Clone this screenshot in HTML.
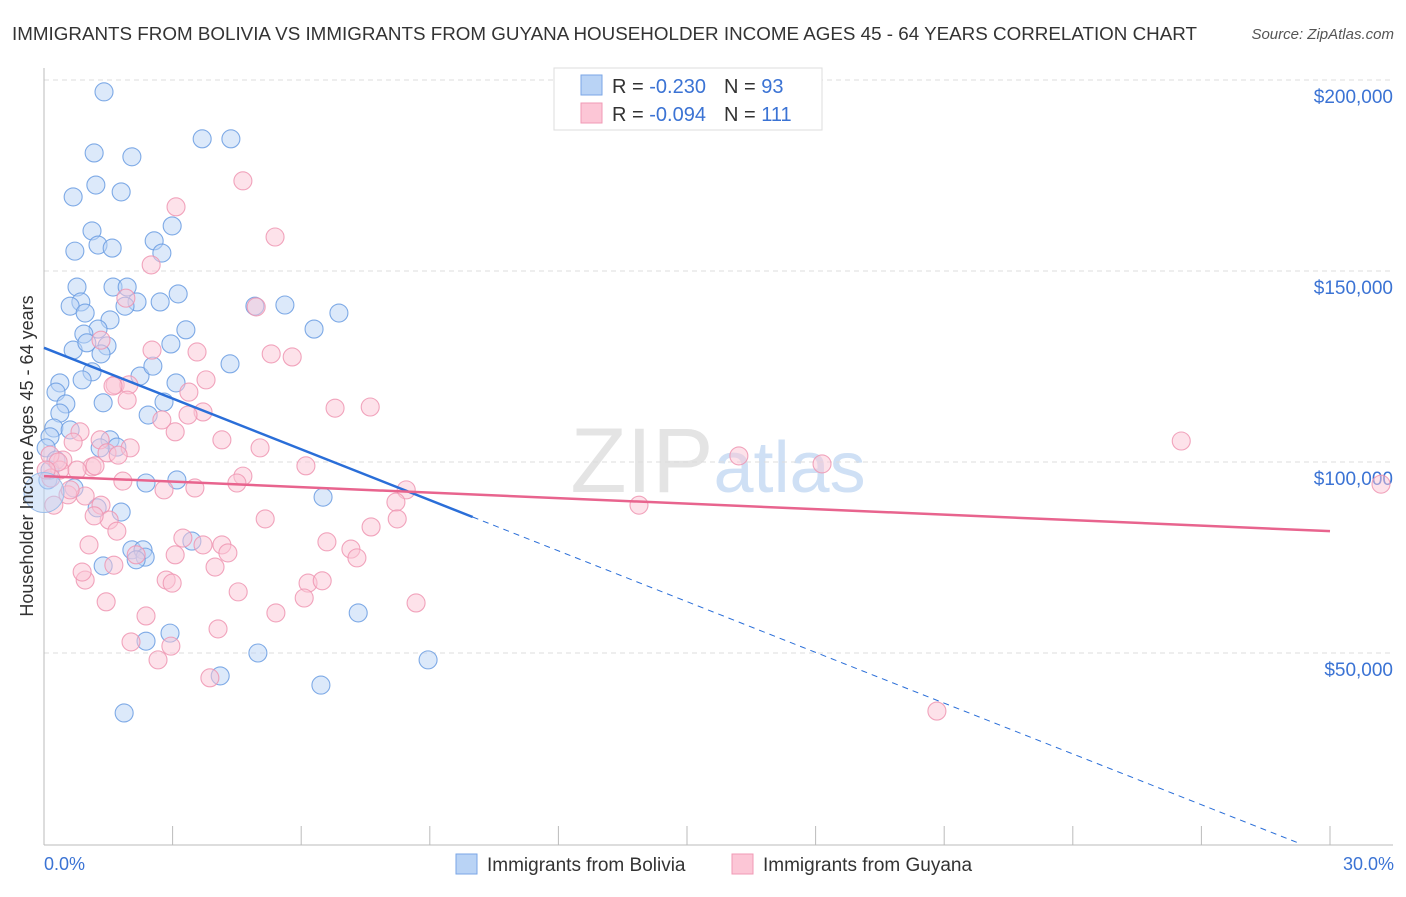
<!DOCTYPE html>
<html><head><meta charset="utf-8"><style>
body{margin:0;background:#fff;font-family:"Liberation Sans",sans-serif;}
svg text{font-family:"Liberation Sans",sans-serif;}
</style></head><body>
<svg id="chart" width="1406" height="892" xmlns="http://www.w3.org/2000/svg">
<text x="12" y="40" font-size="18" fill="#333" textLength="1185" lengthAdjust="spacingAndGlyphs">IMMIGRANTS FROM BOLIVIA VS IMMIGRANTS FROM GUYANA HOUSEHOLDER INCOME AGES 45 - 64 YEARS CORRELATION CHART</text>
<text x="1394" y="39" font-size="15" fill="#555" text-anchor="end" font-style="italic">Source: ZipAtlas.com</text>
<text x="718" y="492" font-size="92" text-anchor="middle" fill="#e4e4e4" font-family="Liberation Serif">ZIP<tspan fill="#cfe0f5" font-family="Liberation Sans" font-size="72">atlas</tspan></text>
<g id="grid"></g><g id="axes"></g><g id="pts"></g><g id="trends"></g>
<text transform="translate(33,456) rotate(-90)" font-size="18" fill="#333" text-anchor="middle">Householder Income Ages 45 - 64 years</text>
<text x="44" y="870" font-size="18" fill="#3b73d4">0.0%</text>
<text x="1394" y="870" font-size="18" fill="#3b73d4" text-anchor="end">30.0%</text>
<g>
<rect x="554" y="68" width="268" height="62" fill="#fff" stroke="#ddd"/>
<rect x="581" y="75" width="21" height="20" fill="#b9d3f5" stroke="#7aa6e6"/>
<rect x="581" y="103" width="21" height="20" fill="#fcc6d6" stroke="#f09ab5"/>
<text x="612" y="93" font-size="20" fill="#333">R = <tspan fill="#3b73d4">-0.230</tspan><tspan dx="18">N = </tspan><tspan fill="#3b73d4">93</tspan></text>
<text x="612" y="121" font-size="20" fill="#333">R = <tspan fill="#3b73d4">-0.094</tspan><tspan dx="18">N = </tspan><tspan fill="#3b73d4">111</tspan></text>
</g>
<g>
<rect x="456" y="854" width="21" height="20" fill="#b9d3f5" stroke="#7aa6e6"/>
<text x="487" y="871" font-size="19" fill="#333">Immigrants from Bolivia</text>
<rect x="732" y="854" width="21" height="20" fill="#fcc6d6" stroke="#f09ab5"/>
<text x="763" y="871" font-size="19" fill="#333">Immigrants from Guyana</text>
</g>
</svg>
<script>
const yTicks=[50,100,150,200];
const yTickLabels=["$50,000","$100,000","$150,000","$200,000"];
const xTicks=[0,3,6,9,12,15,18,21,24,27,30];
const bolX=[1.40,3.69,4.36,1.17,2.05,1.21,1.80,0.68,2.99,1.12,2.57,1.26,1.59,0.72,2.75,0.77,1.61,1.94,0.86,0.61,2.17,2.71,3.13,4.92,5.62,1.89,0.96,1.54,6.88,6.30,3.31,1.26,0.93,0.68,1.00,1.47,1.33,2.96,2.24,4.34,2.54,1.12,0.89,3.08,0.37,0.28,2.80,1.38,0.51,0.37,2.43,0.23,0.61,0.14,1.54,1.70,0.05,1.31,2.38,3.10,6.51,0.70,1.24,1.80,3.45,2.05,2.31,2.36,2.15,1.38,7.33,2.94,2.38,4.99,8.96,4.11,6.46,1.87,0.09,0.28,0.14];
const bolY=[196.9,184.6,184.6,180.9,179.9,172.5,170.7,169.4,161.8,160.5,157.9,156.8,156.0,155.2,154.7,145.8,145.8,145.8,141.9,140.8,141.9,141.9,144.0,140.8,141.1,140.8,139.0,137.2,139.0,134.8,134.6,134.8,133.5,129.3,131.2,130.4,128.3,130.9,122.5,125.7,125.1,123.6,121.5,120.7,120.7,118.3,115.7,115.5,115.2,112.8,112.3,108.9,108.4,106.6,105.8,103.9,103.7,103.7,94.5,95.3,90.8,93.2,88.0,86.9,79.3,77.0,77.0,75.1,74.4,72.8,60.5,55.2,53.1,50.0,48.2,44.0,41.6,34.3,95.3,100.5,97.9];
const guyX=[4.64,3.08,5.39,2.50,4.95,1.91,1.33,2.52,3.57,5.30,5.79,3.78,1.66,1.98,1.61,3.38,1.94,6.79,7.61,3.71,3.36,2.75,3.06,0.84,0.68,1.31,4.15,5.04,2.01,1.47,0.44,0.14,1.73,6.11,1.12,0.37,0.77,1.19,0.16,4.64,0.56,0.96,1.84,2.80,3.52,4.50,8.45,1.33,8.21,1.52,1.70,5.16,7.63,8.24,1.17,0.23,1.05,3.24,2.15,3.06,3.71,4.15,4.29,6.60,7.16,7.30,1.63,3.99,0.96,2.85,2.99,4.53,6.16,6.49,0.89,6.07,1.45,8.68,5.41,2.38,4.06,2.03,2.96,2.66,3.87,16.21,18.15,26.53,31.19,13.88,20.83,0.61,0.33,0.05];
const guyY=[173.6,166.8,158.9,151.6,140.6,142.9,131.9,129.3,128.8,128.3,127.5,121.5,120.2,120.2,119.9,118.3,116.2,114.1,114.4,113.1,112.3,111.0,107.9,107.9,105.2,105.8,105.8,103.7,103.7,102.4,100.5,101.8,101.8,99.0,98.7,97.9,97.9,99.0,95.8,96.3,91.4,91.1,95.0,92.7,93.2,94.5,92.7,88.7,89.5,84.8,81.9,85.1,83.0,85.1,85.9,88.7,78.3,80.1,75.7,75.7,78.3,78.3,76.2,79.1,77.2,74.9,73.0,72.5,69.1,69.1,68.3,66.0,68.3,68.9,71.2,64.4,63.4,63.1,60.5,59.7,56.3,52.9,51.8,48.2,43.5,101.6,99.5,105.5,94.2,88.7,34.8,92.7,100.0,97.9];
const bolTrend=[129.9,85.6,10];
const guyTrend=[96.3,81.9];
const NS="http://www.w3.org/2000/svg";
const X=v=>44+v*1286/30, Y=v=>844-v*191/50;
function mk(t,a,p){const e=document.createElementNS(NS,t);for(const k in a)e.setAttribute(k,a[k]);p.appendChild(e);return e;}
const grid=document.getElementById('grid'),axes=document.getElementById('axes'),pts=document.getElementById('pts'),tr=document.getElementById('trends');
yTicks.forEach((v,i)=>{
 const l=mk('line',{x1:44,x2:1393,y1:Y(v),y2:Y(v),stroke:'#ddd','stroke-dasharray':'5,4'},grid);
 
 
 const t=mk('text',{x:1393,y:Y(v)+23,'font-size':19,fill:'#3b73d4','text-anchor':'end'},axes);
 t.textContent=yTickLabels[i];
 
 
});
const ax=mk('line',{x1:44,x2:44,y1:68,y2:845,stroke:'#bbb'},axes);


const bx=mk('line',{x1:44,x2:1393,y1:845,y2:845,stroke:'#bbb'},axes);


xTicks.forEach(v=>{
 const t=mk('line',{x1:X(v),x2:X(v),y1:826,y2:845,stroke:'#bbb'},axes);
 
 
});
function dots(xs,ys,fill,stroke,name){xs.forEach((v,i)=>{
 const c=mk('circle',{cx:X(v),cy:Y(ys[i]),r:9,fill:fill,'fill-opacity':0.5,stroke:stroke,'stroke-width':1.1,'stroke-opacity':0.85},pts);
 
 
});}
dots(bolX,bolY,'#b9d3f5','#6a9ce2','bolivia-point');
dots(guyX,guyY,'#fcc6d6','#ee95b1','guyana-point');
const big=mk('circle',{cx:44,cy:Y(92),r:20,fill:'#b9d3f5','fill-opacity':0.5,stroke:'#9bbce8'},pts);


const bs=(bolTrend[1]-bolTrend[0])/bolTrend[2];
const b1=mk('line',{x1:X(0),y1:Y(bolTrend[0]),x2:X(bolTrend[2]),y2:Y(bolTrend[1]),stroke:'#2a6ed8','stroke-width':2.5},tr);


const xe=-bolTrend[0]/bs;
const b2=mk('line',{x1:X(bolTrend[2]),y1:Y(bolTrend[1]),x2:X(xe),y2:Y(0),stroke:'#2a6ed8','stroke-width':1,'stroke-dasharray':'6,5'},tr);


const g1=mk('line',{x1:X(0),y1:Y(guyTrend[0]),x2:X(30),y2:Y(guyTrend[1]),stroke:'#e8648e','stroke-width':2.5},tr);


</script>
</body></html>
